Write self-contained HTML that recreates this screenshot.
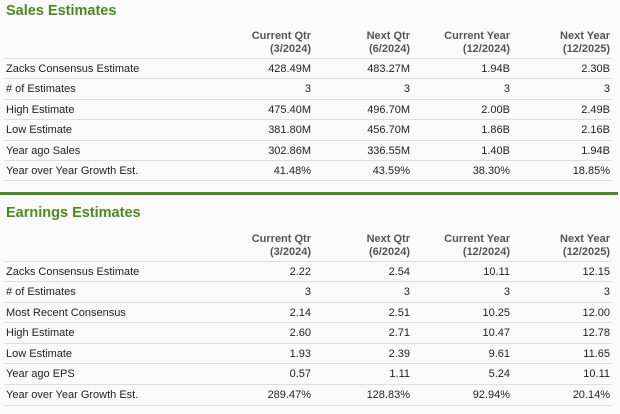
<!DOCTYPE html>
<html><head><meta charset="utf-8"><style>
*{margin:0;padding:0;box-sizing:border-box}
body{width:620px;height:414px;background:#fafafa;font-family:"Liberation Sans",Arial,sans-serif;color:#222;position:relative;overflow:hidden}
.t{position:absolute;left:6px;font-size:14.5px;font-weight:bold;color:#4b8a23}
.h{position:absolute;font-size:11px;font-weight:bold;color:#555;text-align:right;line-height:13px}
.r{position:absolute;left:4px;width:608px;height:20px;border-top:1px solid #ddd;font-size:11px;line-height:20px}
.r span{position:absolute;text-align:right}
.r .l{left:2px;text-align:left}
.a{right:301px}.b{right:202px}.c{right:102px}.d{right:2px}
.g{position:absolute;left:0;top:192px;width:618px;height:3px;background:#4b8a23}
</style></head><body>
<div class="t" style="top:3px">Sales Estimates</div>
<div class="h" style="top:30px;right:309px">Current Qtr<br>(3/2024)</div>
<div class="h" style="top:30px;right:210px">Next Qtr<br>(6/2024)</div>
<div class="h" style="top:30px;right:110px">Current Year<br>(12/2024)</div>
<div class="h" style="top:30px;right:10px">Next Year<br>(12/2025)</div>
<div class="r" style="top:58px"><span class="l">Zacks Consensus Estimate</span><span class="a">428.49M</span><span class="b">483.27M</span><span class="c">1.94B</span><span class="d">2.30B</span></div>
<div class="r" style="top:78px"><span class="l"># of Estimates</span><span class="a">3</span><span class="b">3</span><span class="c">3</span><span class="d">3</span></div>
<div class="r" style="top:99px"><span class="l">High Estimate</span><span class="a">475.40M</span><span class="b">496.70M</span><span class="c">2.00B</span><span class="d">2.49B</span></div>
<div class="r" style="top:119px"><span class="l">Low Estimate</span><span class="a">381.80M</span><span class="b">456.70M</span><span class="c">1.86B</span><span class="d">2.16B</span></div>
<div class="r" style="top:140px"><span class="l">Year ago Sales</span><span class="a">302.86M</span><span class="b">336.55M</span><span class="c">1.40B</span><span class="d">1.94B</span></div>
<div class="r" style="top:160px;height:21px;border-bottom:1px solid #ddd"><span class="l">Year over Year Growth Est.</span><span class="a">41.48%</span><span class="b">43.59%</span><span class="c">38.30%</span><span class="d">18.85%</span></div>
<div class="g"></div>
<div class="t" style="top:205px">Earnings Estimates</div>
<div class="h" style="top:233px;right:309px">Current Qtr<br>(3/2024)</div>
<div class="h" style="top:233px;right:210px">Next Qtr<br>(6/2024)</div>
<div class="h" style="top:233px;right:110px">Current Year<br>(12/2024)</div>
<div class="h" style="top:233px;right:10px">Next Year<br>(12/2025)</div>
<div class="r" style="top:261px"><span class="l">Zacks Consensus Estimate</span><span class="a">2.22</span><span class="b">2.54</span><span class="c">10.11</span><span class="d">12.15</span></div>
<div class="r" style="top:281px"><span class="l"># of Estimates</span><span class="a">3</span><span class="b">3</span><span class="c">3</span><span class="d">3</span></div>
<div class="r" style="top:302px"><span class="l">Most Recent Consensus</span><span class="a">2.14</span><span class="b">2.51</span><span class="c">10.25</span><span class="d">12.00</span></div>
<div class="r" style="top:322px"><span class="l">High Estimate</span><span class="a">2.60</span><span class="b">2.71</span><span class="c">10.47</span><span class="d">12.78</span></div>
<div class="r" style="top:343px"><span class="l">Low Estimate</span><span class="a">1.93</span><span class="b">2.39</span><span class="c">9.61</span><span class="d">11.65</span></div>
<div class="r" style="top:363px"><span class="l">Year ago EPS</span><span class="a">0.57</span><span class="b">1.11</span><span class="c">5.24</span><span class="d">10.11</span></div>
<div class="r" style="top:384px;height:22px;border-bottom:1px solid #ddd"><span class="l">Year over Year Growth Est.</span><span class="a">289.47%</span><span class="b">128.83%</span><span class="c">92.94%</span><span class="d">20.14%</span></div>
</body></html>
